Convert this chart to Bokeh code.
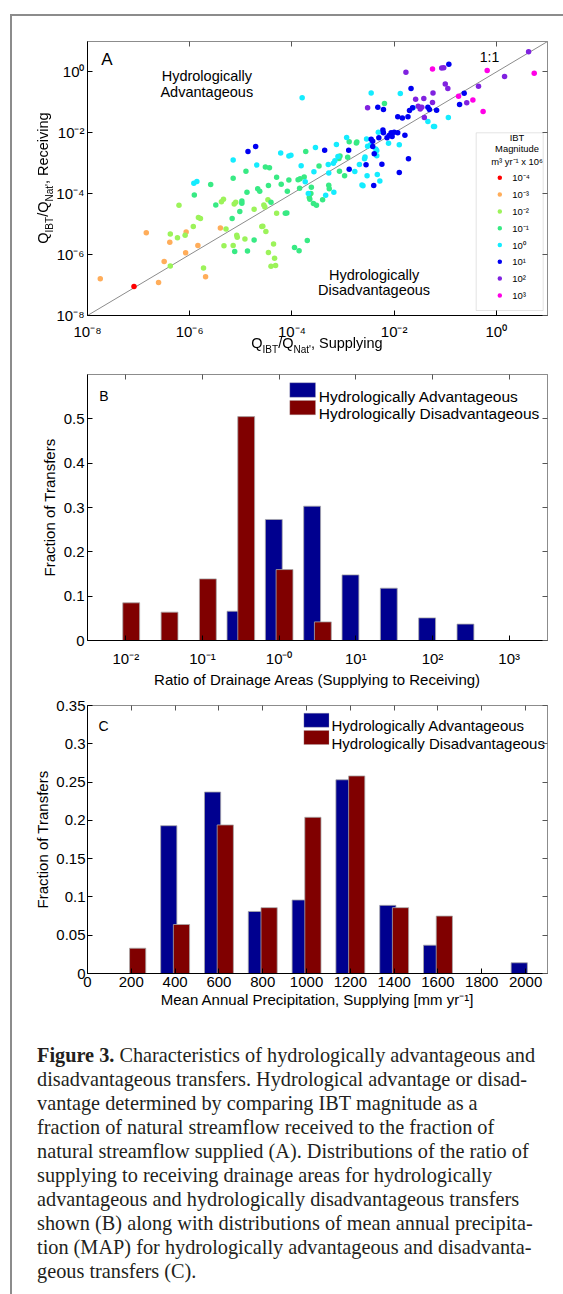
import math
from bokeh.plotting import figure
from bokeh.models import (Range1d, FixedTicker, LinearAxis, LogAxis,
                          CustomJSTickFormatter, Label, BoxAnnotation, Div)
from bokeh.layouts import column, row
from bokeh.embed import file_html
from bokeh.resources import INLINE

SANS = "Liberation Sans"
SERIF = "Liberation Serif"

# ---------------- Panel A data: log10(Q_IBT/Q_Nat), supplying (x) vs receiving (y)
ibt_labels = ["10⁻⁴", "10⁻³", "10⁻²", "10⁻¹", "10⁰", "10¹", "10²", "10³"]
ibt_colors = ["#FF0000", "#FFAD5A", "#9CF35A", "#38EA84", "#14ECFF", "#0000F2", "#8022E0", "#FF00E6"]

m4_logx = [-7.09]
m4_logy = [-7.05]
m3_logx = [-7.75, -6.85, -6.61, -6.50, -6.39, -6.07, -6.08, -5.84, -5.69, -5.40]
m3_logy = [-6.79, -5.28, -6.92, -6.23, -5.59, -5.26, -5.94, -5.70, -6.73, -5.13]
m2_logx = [-6.38, -6.24, -6.21, -6.38, -6.09, -5.93, -5.83, -5.79, -5.73, -5.38, -5.34, -5.29, -5.33,
           -5.13, -5.10, -5.08, -5.07, -5.15, -4.92, -4.74, -4.59, -4.57, -4.55, -4.53, -4.51, -4.47,
           -4.46, -4.41, -4.36, -4.34, -4.32, -4.30]
m2_logy = [-5.32, -5.45, -4.38, -6.37, -5.36, -5.08, -4.78, -4.81, -6.44, -4.26, -4.18, -5.16, -5.71,
           -4.34, -4.28, -5.36, -5.43, -5.70, -5.49, -4.51, -5.08, -5.07, -4.37, -4.44, -5.24, -4.20,
           -5.93, -6.38, -5.65, -6.12, -6.36, -4.64]
m1_logx = [-5.91, -5.59, -5.49, -5.17, -5.15, -5.12, -5.02, -4.98, -4.98, -4.90, -4.88, -4.87, -4.74,
           -4.67, -4.63, -4.52, -4.46, -4.44, -4.41, -4.30, -4.21, -4.13, -4.10, -4.09, -4.06, -3.95,
           -3.88, -3.86, -3.84, -3.85, -3.76, -3.73, -3.70, -3.66, -3.63, -3.65, -3.62, -3.58, -3.52,
           -3.47, -3.40, -3.28, -3.27, -3.08, -3.07, -3.06, -2.97, -2.91, -2.88, -2.74, -2.73, -2.19]
m1_logy = [-4.04, -3.70, -4.37, -4.81, -3.49, -5.90, -4.58, -4.24, -4.31, -3.26, -3.95, -5.88, -5.52,
           -3.84, -3.92, -3.12, -3.73, -3.15, -4.28, -3.46, -3.69, -4.64, -4.63, -3.92, -3.55, -5.77,
           -3.54, -5.87, -3.51, -3.82, -3.45, -2.61, -5.54, -4.12, -3.99, -4.18, -3.79, -4.32, -4.38,
           -3.09, -4.20, -3.72, -3.84, -2.84, -3.26, -2.76, -3.41, -2.80, -2.29, -2.33, -2.30, -1.04]
p0_logx = [-5.92, -5.86, -5.15, -4.69, -4.22, -4.06, -4.02, -3.82, -3.80, -3.74, -3.68, -3.57, -3.54,
           -3.34, -3.29, -3.28, -3.18, -3.19, -3.16, -3.13, -3.10, -2.93, -2.77, -2.68, -2.63, -2.61,
           -2.58, -2.57, -2.54, -2.53, -2.52, -2.46, -2.36, -2.34, -2.34, -2.33, -2.31, -2.28, -2.11,
           -1.90, -1.88, -2.45, -1.63, -1.34, -1.21, -1.23, -0.94]
p0_logy = [-3.66, -3.60, -2.89, -3.06, -2.66, -2.76, -2.74, -3.08, -0.85, -3.61, -3.99, -3.28, -2.48,
           -4.05, -3.04, -3.32, -3.95, -3.00, -2.92, -2.38, -2.78, -2.15, -3.27, -3.04, -3.71, -3.74,
           -2.85, -2.79, -2.20, -3.41, -2.44, -2.39, -2.53, -2.58, -2.75, -3.37, -1.98, -3.58, -2.34,
           -2.39, -0.71, -0.69, -1.18, -1.63, -1.79, -1.79, -1.50]
p1_logx = [-4.86, -4.71, -3.36, -2.89, -2.88, -2.55, -2.45, -2.42, -2.42, -2.40, -2.39, -2.30, -2.24,
           -2.22, -2.21, -2.14, -2.10, -2.06, -2.04, -2.00, -1.93, -1.79, -1.72, -1.90, -1.93, -1.84,
           -1.73, -1.70, -1.67, -1.64, -1.34, -1.31, -1.17, -0.93, -0.63, -0.72, -2.32, -2.21]
p1_logy = [-2.61, -2.45, -2.57, -2.57, -3.20, -3.05, -2.21, -2.28, -2.45, -3.73, -2.69, -2.16, -3.03,
           -1.91, -2.00, -2.16, -2.09, -2.00, -2.12, -1.98, -2.00, -2.08, -2.85, -3.30, -1.47, -1.51,
           -1.47, -1.27, -0.54, -1.18, -1.16, -1.23, -1.26, 0.25, -0.70, -1.07, -1.16, -1.23]
p2_logx = [-1.77, -1.58, -1.53, -1.49, -1.46, -1.42, -1.41, -1.24, -1.25, -1.07, -1.03, -1.00, -0.95,
           -0.58, -0.35, 0.16, 0.63, -2.52]
p2_logy = [-0.01, -0.90, -1.13, -1.22, -1.16, -0.87, -1.50, -0.69, -1.00, 0.13, 0.14, -0.40, -0.54,
           -1.01, -0.47, -0.15, 0.66, -1.18]
p3_logx = [-1.25, -0.74, -0.46, -0.26, -0.18, 0.74]
p3_logy = [0.10, -0.80, -0.92, -1.30, 0.05, -0.04]

class_logx = [m4_logx, m3_logx, m2_logx, m1_logx, p0_logx, p1_logx, p2_logx, p3_logx]
class_logy = [m4_logy, m3_logy, m2_logy, m1_logy, p0_logy, p1_logy, p2_logy, p3_logy]
a_ticks = [1e-8, 1e-6, 1e-4, 1e-2, 1e0]

# ---------------- Panel B data
ratio_bins_log10 = [-2.0, -1.5, -1.0, -0.5, 0.0, 0.5, 1.0, 1.5, 2.0, 2.5, 3.0]
ratio_adv = [0.0, 0.0, 0.0, 0.066, 0.273, 0.303, 0.148, 0.118, 0.051, 0.037, 0.0]
ratio_dis = [0.085, 0.064, 0.139, 0.505, 0.160, 0.042, 0.0, 0.0, 0.0, 0.0, 0.0]
b_xticks = [-2, -1, 0, 1, 2, 3]
b_xlabels = {-2: "10⁻²", -1: "10⁻¹", 0: "10⁻⁰", 1: "10¹", 2: "10²", 3: "10³"}
b_yticks = [0, 0.1, 0.2, 0.3, 0.4, 0.5]

# ---------------- Panel C data
map_bins = [0, 200, 400, 600, 800, 1000, 1200, 1400, 1600, 1800, 2000]
map_adv = [0.0, 0.0, 0.193, 0.237, 0.081, 0.096, 0.253, 0.089, 0.037, 0.0, 0.014]
map_dis = [0.0, 0.033, 0.064, 0.194, 0.086, 0.204, 0.258, 0.086, 0.075, 0.0, 0.0]
c_yticks = [0, 0.05, 0.1, 0.15, 0.2, 0.25, 0.3, 0.35]

ADV_COLOR = "#00008F"
DIS_COLOR = "#800000"
leg_labels = ["Hydrologically Advantageous", "Hydrologically Disadvantageous"]

# ---------------- page geometry (page pixels) used for annotation placement
FL, FR = 87, 547
A_T, A_B = 41, 315
B_T, B_B = 374, 640
C_T, C_B = 705, 973

def ax(px): return 10 ** (-8 + 9 * (px - FL) / (FR - FL))
def ay(py): return 10 ** (-8 + 9 * (A_B - py) / (A_B - A_T))
def bx(px): return -2.5 + 6 * (px - FL) / (FR - FL)
def by(py): return 0.6 * (B_B - py) / (B_B - B_T)
def cx(px): return 2100 * (px - FL) / (FR - FL)
def cy(py): return 0.35 * (C_B - py) / (C_B - C_T)

def add_text(p, x, y, text, size, align="left", baseline="alphabetic", angle=0.0, font=SANS):
    p.add_layout(Label(x=x, y=y, text=text, text_font=font, text_font_size=f"{size}px",
                       text_align=align, text_baseline=baseline, angle=angle,
                       text_color="#000000"))

def sup_formatter():
    return CustomJSTickFormatter(code="""
        const e = Math.round(Math.log10(tick));
        const m = {'-': '\u207b', '0': '\u2070', '1': '\u00b9', '2': '\u00b2', '3': '\u00b3',
                   '4': '\u2074', '5': '\u2075', '6': '\u2076', '7': '\u2077', '8': '\u2078', '9': '\u2079'};
        return '10' + String(e).split('').map(c => m[c]).join('');
    """)

def dec_formatter():
    return CustomJSTickFormatter(code="return String(Math.round(tick * 100) / 100);")

def blank_formatter():
    return CustomJSTickFormatter(code="return '';")

def style_axis(axis, main=True, standoff=3):
    axis.major_tick_in = 5
    axis.major_tick_out = 0
    axis.minor_tick_in = 0
    axis.minor_tick_out = 0
    axis.major_tick_line_color = "#000000" if main else "#555555"
    axis.axis_line_color = "#000000" if main else "#8c8c8c"
    axis.axis_line_width = 1
    axis.major_label_text_font = SANS
    axis.major_label_text_font_size = "15px" if main else "0px"
    axis.major_label_text_color = "#000000"
    axis.major_label_standoff = standoff if main else 0
    axis.axis_label_text_font = SANS
    axis.axis_label_text_font_size = "15px"
    axis.axis_label_text_font_style = "normal"
    axis.axis_label_text_color = "#000000"

def base_fig(h, top, bottom, **kw):
    p = figure(width=543, height=h, output_backend="svg", toolbar_location=None,
               min_border_left=75, min_border_right=8, min_border_top=top,
               min_border_bottom=bottom, **kw)
    p.grid.visible = False
    p.outline_line_color = "#8c8c8c"
    p.background_fill_color = "white"
    p.border_fill_color = "white"
    return p

# ======================= Panel A =======================
pA = base_fig(344, 25, 45, x_axis_type="log", y_axis_type="log",
              x_range=Range1d(1e-8, 1e1), y_range=Range1d(1e-8, 1e1))
for axis, so in ((pA.xaxis[0], 7), (pA.yaxis[0], 3)):
    axis.ticker = FixedTicker(ticks=a_ticks)
    axis.formatter = sup_formatter()
    style_axis(axis, True, so)
for loc in ("above", "right"):
    ex = LogAxis(ticker=FixedTicker(ticks=a_ticks), formatter=blank_formatter())
    style_axis(ex, False)
    pA.add_layout(ex, loc)

pA.line([1e-8, 1e1], [1e-8, 1e1], line_color="#8c8c8c", line_width=1)
for lx, ly, col in zip(class_logx, class_logy, ibt_colors):
    pA.scatter([10 ** v for v in lx], [10 ** v for v in ly], size=5.5,
               fill_color=col, line_color=None)

add_text(pA, ax(100.7), ay(59), "A", 17)
add_text(pA, ax(479.3), ay(56.7), "1:1", 14)
add_text(pA, ax(206.3), ay(75.7), "Hydrologically", 14.5, align="center")
add_text(pA, ax(206.3), ay(91.0), "Advantageous", 14.5, align="center")
add_text(pA, ax(373.6), ay(274), "Hydrologically", 14.5, align="center")
add_text(pA, ax(373.6), ay(289.3), "Disadvantageous", 14.5, align="center")

# magnitude legend
pA.add_layout(BoxAnnotation(left=ax(475.7), right=ax(542.7), top=ay(132.3), bottom=ay(310),
                            fill_color="white", fill_alpha=1.0, line_color="#a6a6a6",
                            line_width=1, level="underlay"))
add_text(pA, ax(516.5), ay(137.3), "IBT", 9.4, align="center", baseline="middle")
add_text(pA, ax(516.5), ay(148.3), "Magnitude", 9.4, align="center", baseline="middle")
add_text(pA, ax(516.5), ay(161.0), "m³ yr⁻¹ x 10⁶", 9.4, align="center", baseline="middle")
leg_py = [177.3 + 16.8 * k for k in range(len(ibt_labels))]
pA.scatter([ax(499.3)] * len(ibt_labels), [ay(v) for v in leg_py], size=4.5,
           fill_color=ibt_colors, line_color=None)
for lab, v in zip(ibt_labels, leg_py):
    add_text(pA, ax(511.7), ay(v), lab, 9.5, baseline="middle")

# ======================= Panel B =======================
pB = base_fig(332, 14, 52, x_range=Range1d(-2.5, 3.5), y_range=Range1d(0, 0.6))
style_axis(pB.xaxis[0], True, 9)
style_axis(pB.yaxis[0], True, 3)
pB.xaxis[0].ticker = FixedTicker(ticks=b_xticks)
pB.xaxis[0].major_label_overrides = b_xlabels
pB.yaxis[0].ticker = FixedTicker(ticks=b_yticks)
pB.yaxis[0].formatter = dec_formatter()
pB.xaxis[0].axis_label = "Ratio of Drainage Areas (Supplying to Receiving)"
pB.xaxis[0].axis_label_standoff = 1
pB.yaxis[0].axis_label = "Fraction of Transfers"
pB.yaxis[0].axis_label_standoff = 3
exB1 = LinearAxis(ticker=FixedTicker(ticks=b_xticks), formatter=blank_formatter())
exB2 = LinearAxis(ticker=FixedTicker(ticks=b_yticks), formatter=blank_formatter())
style_axis(exB1, False); style_axis(exB2, False)
pB.add_layout(exB1, "above"); pB.add_layout(exB2, "right")

pB.vbar(x=[v - 0.07 for v in ratio_bins_log10], top=ratio_adv, width=0.22,
        fill_color=ADV_COLOR, line_color="#a8a8a8", line_width=0.8)
pB.vbar(x=[v + 0.07 for v in ratio_bins_log10], top=ratio_dis, width=0.22,
        fill_color=DIS_COLOR, line_color="#a8a8a8", line_width=0.8)

add_text(pB, bx(98.7), by(395), "B", 14)
pB.add_layout(BoxAnnotation(left=bx(289.3), right=bx(315), top=by(382.3), bottom=by(396.7),
                            fill_color=ADV_COLOR, fill_alpha=1.0, line_color="#a8a8a8"))
pB.add_layout(BoxAnnotation(left=bx(289.3), right=bx(315), top=by(400), bottom=by(414.3),
                            fill_color=DIS_COLOR, fill_alpha=1.0, line_color="#a8a8a8"))
add_text(pB, bx(318.3), by(395.5), leg_labels[0], 15.5)
add_text(pB, bx(318.3), by(413), leg_labels[1], 15.5)

# ======================= Panel C =======================
pC = base_fig(323, 13, 42, x_range=Range1d(0, 2100), y_range=Range1d(0, 0.35))
style_axis(pC.xaxis[0], True, 3)
style_axis(pC.yaxis[0], True, 2)
pC.xaxis[0].ticker = FixedTicker(ticks=map_bins)
pC.yaxis[0].ticker = FixedTicker(ticks=c_yticks)
pC.yaxis[0].formatter = dec_formatter()
pC.xaxis[0].axis_label = "Mean Annual Precipitation, Supplying [mm yr⁻¹]"
pC.xaxis[0].axis_label_standoff = 1
pC.yaxis[0].axis_label = "Fraction of Transfers"
pC.yaxis[0].axis_label_standoff = 2
exC1 = LinearAxis(ticker=FixedTicker(ticks=map_bins), formatter=blank_formatter())
exC2 = LinearAxis(ticker=FixedTicker(ticks=c_yticks), formatter=blank_formatter())
style_axis(exC1, False); style_axis(exC2, False)
pC.add_layout(exC1, "above"); pC.add_layout(exC2, "right")

pC.vbar(x=[v - 29 for v in map_bins], top=map_adv, width=74,
        fill_color=ADV_COLOR, line_color="#a8a8a8", line_width=0.8)
pC.vbar(x=[v + 29 for v in map_bins], top=map_dis, width=74,
        fill_color=DIS_COLOR, line_color="#a8a8a8", line_width=0.8)

add_text(pC, cx(98), cy(725), "C", 14)
pC.add_layout(BoxAnnotation(left=cx(303.4), right=cx(328.5), top=cy(712.7), bottom=cy(726.7),
                            fill_color=ADV_COLOR, fill_alpha=1.0, line_color="#a8a8a8"))
pC.add_layout(BoxAnnotation(left=cx(303.4), right=cx(328.5), top=cy(730), bottom=cy(744),
                            fill_color=DIS_COLOR, fill_alpha=1.0, line_color="#a8a8a8"))
add_text(pC, cx(331), cy(725), leg_labels[0], 15)
add_text(pC, cx(331), cy(743), leg_labels[1], 15)

# ======================= Panel A axis titles (with subscripts) as HTML text =======================
SUB = "<span style='font-size:10px;vertical-align:-5px'>{}</span>"
a_xlabel = "Q" + SUB.format("IBT") + "/Q" + SUB.format("Nat'") + ", Supplying"
a_ylabel = "Q" + SUB.format("IBT") + "/Q" + SUB.format("Nat'") + ", Receiving"
label_css = ("font-family:'Liberation Sans';font-size:14.5px;line-height:17px;white-space:nowrap;"
             "color:#000;text-align:center;")
axis_titles_html = (
    f"<div style=\"position:fixed;left:{FL}px;top:334.5px;width:{FR - FL}px;{label_css}\">{a_xlabel}</div>"
    f"<div style=\"position:fixed;left:35px;top:{A_B}px;width:{A_B - A_T}px;{label_css}"
    f"transform:rotate(-90deg);transform-origin:0 0;\">{a_ylabel}</div>"
)

# ======================= Caption & frame =======================
cap_lines = [
    "<b>Figure 3.</b> Characteristics of hydrologically advantageous and",
    "disadvantageous transfers. Hydrological advantage or disad-",
    "vantage determined by comparing IBT magnitude as a",
    "fraction of natural streamflow received to the fraction of",
    "natural streamflow supplied (A). Distributions of the ratio of",
    "supplying to receiving drainage areas for hydrologically",
    "advantageous and hydrologically disadvantageous transfers",
    "shown (B) along with distributions of mean annual precipita-",
    "tion (MAP) for hydrologically advantageous and disadvanta-",
    "geous transfers (C).",
]
cap_html = (axis_titles_html +
            "<div style=\"font-family:'Liberation Serif';font-size:20.3px;line-height:24px;"
            "color:#231f20;white-space:nowrap;padding:28px 0 0 25px;\">"
            + "<br>".join(cap_lines) + "</div>")
caption = Div(text=cap_html, width=543, height=271, margin=0)

spacer_top = Div(text="", width=563, height=14, margin=0)
spacer_left = Div(text="", width=10, height=1280, margin=0)
line_top = Div(text="", width=553, height=2, margin=0, styles={"background-color": "#8c8c8c"})
line_left = Div(text="", width=2, height=1278, margin=0, styles={"background-color": "#8c8c8c"})

inner = column(pA, pB, pC, caption, spacing=0)
page = column(spacer_top,
              row(spacer_left,
                  column(line_top, row(line_left, inner, spacing=0), spacing=0),
                  spacing=0),
              spacing=0)

open("out.html", "w").write(file_html(page, INLINE, title="Figure 3"))
